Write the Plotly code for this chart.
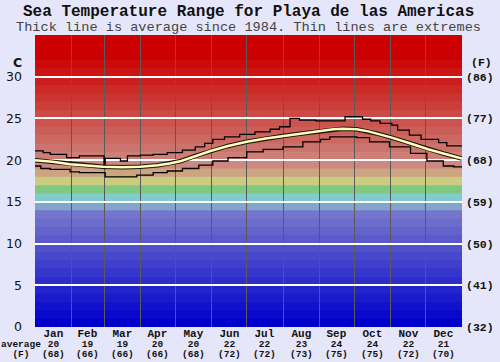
import plotly.graph_objects as go

# ---------------- data ----------------
months = ["Jan", "Feb", "Mar", "Apr", "May", "Jun", "Jul", "Aug", "Sep", "Oct", "Nov", "Dec"]
month_avg_c = [20, 19, 19, 20, 20, 22, 22, 23, 24, 24, 22, 21]
month_avg_f = [68, 66, 66, 66, 68, 72, 72, 73, 75, 75, 72, 70]
month_start_day = [0, 31, 59, 90, 120, 151, 181, 212, 243, 273, 304, 334, 365]

avg_day = [0, 15, 30, 45, 58, 75, 90, 105, 115, 125, 137, 150, 165, 181, 197, 212, 228,
           244, 255, 263, 275, 285, 292, 305, 321, 336, 349, 365]
avg_temp = [20.0, 19.8, 19.5, 19.3, 19.2, 19.15, 19.2, 19.4, 19.6, 19.9, 20.5, 21.1, 21.7,
            22.2, 22.6, 22.9, 23.2, 23.5, 23.7, 23.75, 23.7, 23.45, 23.2, 22.7, 22.0, 21.3,
            20.8, 20.2]

max_day = [0, 7, 13, 27, 38, 59, 60, 73, 79, 90, 101, 113, 126, 137, 145, 152, 162, 175,
           188, 201, 209, 218, 226, 240, 265, 280, 287, 295, 305, 310, 320, 330, 345, 352, 365]
max_temp = [21.1, 20.9, 20.7, 20.3, 20.5, 19.0, 20.2, 19.9, 20.5, 20.6, 20.7, 20.9, 21.2,
            21.6, 22.0, 22.5, 22.8, 23.1, 23.4, 23.7, 24.0, 25.0, 24.8, 24.7, 25.2, 24.9,
            24.7, 24.4, 24.2, 23.6, 23.0, 22.5, 22.1, 21.7, 21.7]

min_day = [0, 5, 13, 30, 38, 60, 87, 101, 113, 126, 140, 152, 165, 181, 195, 212, 229,
           244, 252, 275, 286, 303, 321, 335, 349, 358, 365]
min_temp = [19.3, 19.0, 18.9, 18.6, 18.5, 18.0, 18.2, 18.5, 18.7, 19.0, 19.4, 19.9, 20.3,
            21.0, 21.3, 21.6, 22.2, 22.5, 22.8, 22.7, 22.2, 21.6, 20.8, 19.9, 19.3, 19.2, 19.2]

c_ticks = [0, 5, 10, 15, 20, 25, 30]
f_ticks = ["(32)", "(41)", "(50)", "(59)", "(68)", "(77)", "(86)"]

# background colour band per degree (0..31), above 32 solid red
band_colors = []
for t in range(32):
    if t <= 13:
        v = int(round(9 * t))
        band_colors.append(f"rgb({v},{v},204)")
    elif t == 14:
        band_colors.append("rgb(128,166,204)")
    elif t == 15:
        band_colors.append("rgb(128,204,204)")
    elif t == 16:
        band_colors.append("rgb(128,200,128)")
    elif t == 17:
        band_colors.append("rgb(204,204,128)")
    elif t == 18:
        band_colors.append("rgb(204,164,128)")
    else:
        g = max(0, int(round(136 - 10.5 * (t - 19))))
        band_colors.append(f"rgb(204,{g},{int(g*0.95)})")
top_color = "rgb(204,0,0)"

MONO = "Liberation Mono, Courier New, monospace"
SANS = "DejaVu Sans, Verdana, sans-serif"

fig = go.Figure()

shapes = []
for t, col in enumerate(band_colors):
    shapes.append(dict(type="rect", xref="paper", yref="y", x0=0, x1=1, y0=t, y1=t + 1.5,
                       fillcolor=col, line=dict(width=0), layer="below"))
shapes.append(dict(type="rect", xref="paper", yref="y", x0=0, x1=1, y0=32, y1=35,
                   fillcolor=top_color, line=dict(width=0), layer="below"))

fig.add_trace(go.Scatter(x=max_day, y=max_temp, mode="lines", line=dict(color="black", width=1.3, shape="hv"),
                         hoverinfo="skip", showlegend=False))
fig.add_trace(go.Scatter(x=min_day, y=min_temp, mode="lines", line=dict(color="black", width=1.3, shape="hv"),
                         hoverinfo="skip", showlegend=False))
fig.add_trace(go.Scatter(x=avg_day, y=avg_temp, mode="lines", line=dict(color="rgb(30,20,10)", width=4.5),
                         hoverinfo="skip", showlegend=False))
fig.add_trace(go.Scatter(x=avg_day, y=avg_temp, mode="lines", line=dict(color="rgb(255,255,190)", width=2.5),
                         hoverinfo="skip", showlegend=False))
# invisible trace for right axis
fig.add_trace(go.Scatter(x=[0], y=[0], yaxis="y2", mode="markers", marker=dict(opacity=0),
                         hoverinfo="skip", showlegend=False))

annotations = [
    dict(text="<b>Sea Temperature Range for Playa de las Americas</b>", xref="paper", yref="paper",
         x=0.5, y=1, yshift=23, xanchor="center", yanchor="middle", showarrow=False,
         font=dict(family=MONO, size=16, color="#111")),
    dict(text="Thick line is average since 1984. Thin lines are extremes", xref="paper", yref="paper",
         x=0.5, y=1, yshift=8, xanchor="center", yanchor="middle", showarrow=False,
         font=dict(family=MONO, size=13.6, color="#444")),
    dict(text="<b>C</b>", xref="paper", yref="y", x=0, y=32, xshift=-18, yshift=-2, xanchor="center", yanchor="middle",
         showarrow=False, font=dict(family=SANS, size=12.5, color="#111")),
    dict(text="<b>(F)</b>", xref="paper", yref="y", x=1, y=32, xshift=19, yshift=-2, xanchor="center", yanchor="middle",
         showarrow=False, font=dict(family=MONO, size=11.5, color="#111")),
    dict(text="<span style='font-size:9.5px'><b>average</b></span><br><span style='font-size:9.5px'><b>(F)</b></span>",
         xref="paper", yref="paper", x=0, y=0, xshift=-14, yshift=-10,
         xanchor="center", yanchor="top", showarrow=False, font=dict(family=MONO, size=7.7, color="#111")),
]
for i, m in enumerate(months):
    mid = (month_start_day[i] + month_start_day[i + 1]) / 2
    txt = (f"<span style='font-size:11px'><b>{m}</b></span><br>"
           f"<span style='font-size:9.5px'><b>{month_avg_c[i]}</b></span><br>"
           f"<span style='font-size:9.5px'><b>({month_avg_f[i]})</b></span>")
    annotations.append(dict(text=txt, xref="x", yref="paper", x=mid, y=0, yshift=1,
                            xanchor="center", yanchor="top", showarrow=False,
                            font=dict(family=MONO, size=7.7, color="#111")))

fig.update_layout(
    width=500, height=362,
    margin=dict(l=35, r=38, t=35, b=35, autoexpand=False),
    paper_bgcolor="rgb(230,230,250)",
    plot_bgcolor="rgb(204,0,0)",
    shapes=shapes,
    annotations=annotations,
    showlegend=False,
    xaxis=dict(range=[0, 365], tickvals=month_start_day[1:-1], showticklabels=False, ticks="",
               showgrid=True, gridcolor="rgb(90,90,90)", gridwidth=1, zeroline=False, showline=False,
               fixedrange=True, automargin=False),
    yaxis=dict(range=[0, 35], tickvals=c_ticks, ticks="", ticklabelstandoff=12,
               showgrid=True, gridcolor="white", gridwidth=2, zeroline=False, showline=False,
               tickfont=dict(family=SANS, size=12.5, color="#111"), fixedrange=True, automargin=False),
    yaxis2=dict(range=[0, 35], overlaying="y", side="right", tickvals=c_ticks, ticktext=[f"<b>{t}</b>" for t in f_ticks],
                ticks="", ticklabelstandoff=3, showgrid=False, zeroline=False, showline=False,
                tickfont=dict(family=MONO, size=11.5, color="#111"), fixedrange=True, automargin=False),
)

fig.write_html("out.html", config={"displayModeBar": False},
               post_script="document.body.style.margin='0';document.body.style.background='rgb(230,230,250)';")
